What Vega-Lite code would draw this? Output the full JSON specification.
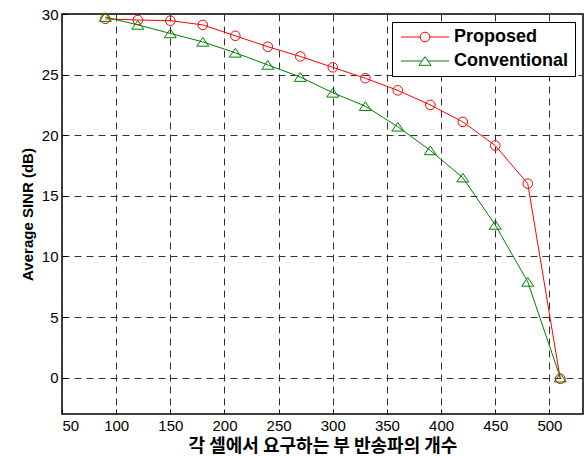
{
  "$schema": "https://vega.github.io/schema/vega-lite/v6.json",
  "width": 521,
  "height": 400,
  "autosize": "none",
  "padding": {"left": 62, "top": 14, "right": 3, "bottom": 42},
  "background": "white",
  "data": {"values": [
    {"x": 90, "y": 29.6, "series": "Proposed"},
    {"x": 120, "y": 29.5, "series": "Proposed"},
    {"x": 150, "y": 29.45, "series": "Proposed"},
    {"x": 180, "y": 29.1, "series": "Proposed"},
    {"x": 210, "y": 28.2, "series": "Proposed"},
    {"x": 240, "y": 27.3, "series": "Proposed"},
    {"x": 270, "y": 26.5, "series": "Proposed"},
    {"x": 300, "y": 25.6, "series": "Proposed"},
    {"x": 330, "y": 24.7, "series": "Proposed"},
    {"x": 360, "y": 23.7, "series": "Proposed"},
    {"x": 390, "y": 22.5, "series": "Proposed"},
    {"x": 420, "y": 21.1, "series": "Proposed"},
    {"x": 450, "y": 19.15, "series": "Proposed"},
    {"x": 480, "y": 16.0, "series": "Proposed"},
    {"x": 510, "y": -0.1, "series": "Proposed"},
    {"x": 90, "y": 29.75, "series": "Conventional"},
    {"x": 120, "y": 29.1, "series": "Conventional"},
    {"x": 150, "y": 28.4, "series": "Conventional"},
    {"x": 180, "y": 27.7, "series": "Conventional"},
    {"x": 210, "y": 26.8, "series": "Conventional"},
    {"x": 240, "y": 25.8, "series": "Conventional"},
    {"x": 270, "y": 24.8, "series": "Conventional"},
    {"x": 300, "y": 23.5, "series": "Conventional"},
    {"x": 330, "y": 22.4, "series": "Conventional"},
    {"x": 360, "y": 20.7, "series": "Conventional"},
    {"x": 390, "y": 18.75, "series": "Conventional"},
    {"x": 420, "y": 16.5, "series": "Conventional"},
    {"x": 450, "y": 12.6, "series": "Conventional"},
    {"x": 480, "y": 7.9, "series": "Conventional"},
    {"x": 510, "y": 0.0, "series": "Conventional"}
  ]},
  "config": {
    "view": {"stroke": "black", "strokeWidth": 1.5},
    "axis": {
      "domain": false,
      "grid": true,
      "gridColor": "#333333",
      "gridDash": [7, 5],
      "gridWidth": 1,
      "gridOpacity": 1,
      "tickColor": "black",
      "tickSize": -5,
      "labelFont": "Liberation Sans",
      "labelFontSize": 15,
      "labelColor": "black",
      "labelPadding": 9,
      "titleColor": "black",
      "titleFontWeight": "bold"
    },
    "legend": {
      "orient": "none",
      "legendX": 330,
      "legendY": 8,
      "title": null,
      "padding": 6,
      "strokeColor": "black",
      "fillColor": "white",
      "symbolOffset": 18,
      "labelOffset": 20,
      "rowPadding": 6,
      "symbolSize": 144,
      "symbolStrokeWidth": 1,
      "symbolFillColor": "transparent",
      "labelFont": "Liberation Sans",
      "labelFontWeight": "bold",
      "labelFontSize": 18,
      "labelColor": "black",
      "labelLimit": 0
    }
  },
  "encoding": {
    "x": {
      "field": "x",
      "type": "quantitative",
      "scale": {"domain": [50, 531], "nice": false},
      "axis": {
        "values": [50, 100, 150, 200, 250, 300, 350, 400, 450, 500],
        "title": "각 셀에서 요구하는 부 반송파의 개수",
        "titleFont": "Noto Sans CJK KR",
        "titleFontSize": 18,
        "titlePadding": 4
      }
    },
    "y": {
      "field": "y",
      "type": "quantitative",
      "scale": {"domain": [-3, 30], "nice": false},
      "axis": {
        "values": [0, 5, 10, 15, 20, 25, 30],
        "title": "Average SINR (dB)",
        "titleFont": "Liberation Sans",
        "titleFontSize": 15,
        "titlePadding": 6
      }
    },
    "color": {
      "field": "series",
      "type": "nominal",
      "scale": {"domain": ["Proposed", "Conventional"], "range": ["#ff0000", "#008000"]},
      "legend": {"title": null}
    }
  },
  "layer": [
    {
      "mark": {"type": "line", "strokeWidth": 1}
    },
    {
      "transform": [{"filter": "datum.series === 'Proposed'"}],
      "mark": {"type": "point", "filled": false, "strokeWidth": 1, "size": 144, "opacity": 1,
               "shape": "M-0.8,0A0.8,0.8,0,1,1,0.8,0A0.8,0.8,0,1,1,-0.8,0Z"}
    },
    {
      "transform": [{"filter": "datum.series === 'Conventional'"}],
      "mark": {"type": "point", "filled": false, "strokeWidth": 1, "size": 144, "opacity": 1,
               "shape": "M0,-0.72L1,0.72L-1,0.72Z"}
    },
    {
      "transform": [{"filter": "datum.x > 10000"}],
      "mark": {"type": "point", "filled": false, "strokeWidth": 1, "size": 144, "opacity": 1},
      "encoding": {
        "shape": {
          "field": "series",
          "type": "nominal",
          "scale": {
            "domain": ["Proposed", "Conventional"],
            "range": [
              "M-4,0H-0.8M0.8,0H4M-0.8,0A0.8,0.8,0,1,1,0.8,0A0.8,0.8,0,1,1,-0.8,0Z",
              "M-4,0H-0.5M0.5,0H4M0,-0.72L1,0.72L-1,0.72Z"
            ]
          },
          "legend": {"title": null}
        }
      }
    }
  ]
}
